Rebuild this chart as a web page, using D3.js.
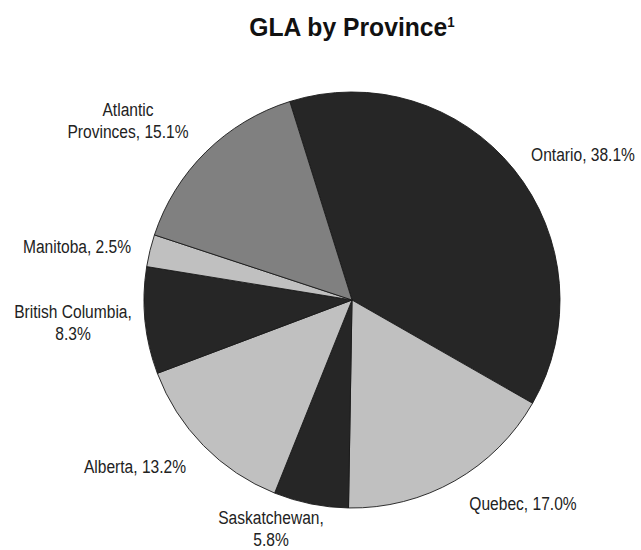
<!DOCTYPE html>
<html>
<head>
<meta charset="utf-8">
<script src="https://cdn.jsdelivr.net/npm/d3@7"></script>
<style>
  body { margin: 0; background: #fff; }
  text { font-family: "Liberation Sans", Arial, sans-serif; }
</style>
</head>
<body>
<svg id="pie-chart"></svg>
<script>
// chart size
const width = 641;
const height = 550;

// data (clockwise, starting from the top)
const provinces = ['Ontario', 'Quebec', 'Saskatchewan', 'Alberta', 'British Columbia', 'Manitoba', 'Atlantic Provinces'];
const shares = [38.1, 17.0, 5.8, 13.2, 8.3, 2.5, 15.1];
const labelLines = [
  ['Ontario, 38.1%'],
  ['Quebec, 17.0%'],
  ['Saskatchewan,', '5.8%'],
  ['Alberta, 13.2%'],
  ['British Columbia,', '8.3%'],
  ['Manitoba, 2.5%'],
  ['Atlantic', 'Provinces, 15.1%']
];

// slice fills
const fills = ['#262626', '#c0c0c0', '#262626', '#c0c0c0', '#262626', '#c0c0c0', '#808080'];

// label anchor points (first baseline, centered)
const labelPos = {
  'Ontario': [583, 161],
  'Quebec': [523, 510],
  'Saskatchewan': [271, 524],
  'Alberta': [135, 473],
  'British Columbia': [73, 318],
  'Manitoba': [77, 253],
  'Atlantic Provinces': [128, 116]
};
const lineGap = 22;

const center = {x: 352, y: 300};
const radius = 208;
const startDeg = -17.4;

const svg = d3.select('#pie-chart')
  .attr('width', width)
  .attr('height', height);

svg.append('rect')
  .attr('width', width)
  .attr('height', height)
  .attr('fill', '#fff');

/*
 * title with superscript
 */
const title = svg.append('g')
  .attr('transform', translate(352, 36) + ' scale(0.95,1)');

const titleText = title.append('text')
  .attr('text-anchor', 'middle')
  .attr('fill', '#111')
  .style('font-weight', 'bold')
  .style('font-size', '26px');

titleText.append('tspan').text('GLA by Province');
titleText.append('tspan')
  .attr('dy', -9)
  .style('font-size', '14px')
  .text('1');

/*
 * pie slices
 */
const color = d3.scaleOrdinal()
  .domain(provinces)
  .range(fills);

const pie = d3.pie()
  .sort(null)
  .value(d => d.value)
  .startAngle(startDeg * Math.PI / 180)
  .endAngle(startDeg * Math.PI / 180 + 2 * Math.PI);

const arc = d3.arc()
  .innerRadius(0)
  .outerRadius(radius);

const data = provinces.map((p, i) => ({name: p, value: shares[i], lines: labelLines[i]}));

const plot = svg.append('g')
  .attr('id', 'plot')
  .attr('transform', translate(center.x, center.y));

plot.selectAll('path')
  .data(pie(data))
  .enter()
  .append('path')
  .attr('d', arc)
  .attr('fill', d => color(d.data.name))
  .attr('stroke', '#1a1a1a')
  .attr('stroke-width', 0.9)
  .attr('stroke-linejoin', 'round');

/*
 * slice labels
 */
const labels = svg.append('g').attr('id', 'labels')
  .selectAll('g')
  .data(data)
  .enter()
  .append('g')
  .attr('transform', d => translate(labelPos[d.name][0], labelPos[d.name][1]) + ' scale(0.82,1)');

labels.append('text')
  .attr('text-anchor', 'middle')
  .attr('fill', '#222')
  .style('font-size', '19px')
  .each(function(d) {
    const t = d3.select(this);
    d.lines.forEach((line, i) => {
      t.append('tspan')
        .attr('x', 0)
        .attr('y', i * lineGap)
        .text(line);
    });
  });

function translate(x, y) {
  return 'translate(' + String(x) + ',' + String(y) + ')';
}
</script>
</body>
</html>
